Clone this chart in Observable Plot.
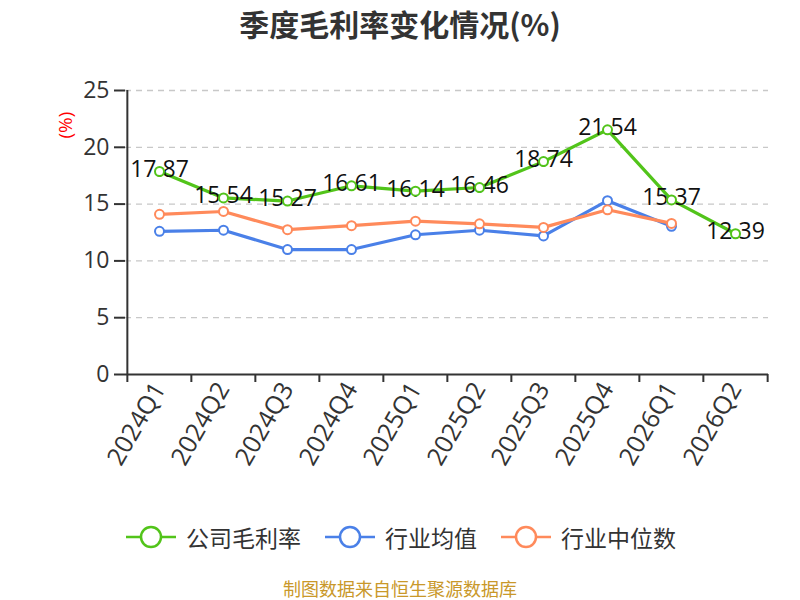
<!DOCTYPE html>
<html><head><meta charset="utf-8">
<script src="https://cdn.jsdelivr.net/npm/d3@7"></script>
<script src="https://cdn.jsdelivr.net/npm/@observablehq/plot@0.6"></script>
<style>
body{margin:0;background:#fff;font-family:"Noto Sans CJK SC","Noto Sans",sans-serif;width:800px;}
#title{height:50px;line-height:46px;text-align:center;font-size:30px;font-weight:bold;color:#333;}
#legend{height:54px;display:flex;justify-content:center;align-items:center;gap:24px;font-size:23px;color:#333;padding-left:2px;}
.item{display:flex;align-items:center;gap:10px;}
#caption{height:48px;line-height:48px;text-align:center;font-size:18px;color:#c9982a;}
</style></head><body>
<div id="title">季度毛利率变化情况(%)</div>
<div id="chart"></div>
<div id="legend"></div>
<div id="caption">制图数据来自恒生聚源数据库</div>
<script>
const quarters = ["2024Q1","2024Q2","2024Q3","2024Q4","2025Q1","2025Q2","2025Q3","2025Q4","2026Q1","2026Q2"];
const companyMargin = [17.87,15.54,15.27,16.61,16.14,16.46,18.74,21.54,15.37,12.39];
const industryMean = [12.6,12.7,11.0,11.0,12.3,12.7,12.2,15.3,13.05,null];
const industryMedian = [14.1,14.35,12.75,13.1,13.5,13.26,12.95,14.5,13.3,null];
const yTicks = [0,5,10,15,20,25];
const seriesNames = ["公司毛利率","行业均值","行业中位数"];
const colors = ["#52c41a","#4a80e8","#ff8a5b"];

const rows = [];
[companyMargin, industryMean, industryMedian].forEach((arr, s) => {
  arr.forEach((v, i) => { if (v != null) rows.push({q: quarters[i], v, s: seriesNames[s]}); });
});
const company = rows.filter(d => d.s === seriesNames[0]);

const W = 800, H = 460, mL = 125, mR = 32, mT = 40, mB = 136;
const bw = (W - mL - mR) / quarters.length;

const chart = Plot.plot({
  width: W, height: H,
  marginLeft: mL, marginRight: mR, marginTop: mT, marginBottom: mB,
  style: {fontFamily: '"Open Sans","Noto Sans CJK SC",sans-serif', overflow: "visible"},
  x: {type: "band", domain: quarters, padding: 0, label: null},
  y: {domain: [0, 25], label: null},
  color: {domain: seriesNames, range: colors},
  marks: [
    Plot.gridY(yTicks.slice(1), {stroke: "#c8c8c8", strokeOpacity: 1, strokeDasharray: "6,5", strokeWidth: 1.3}),
    Plot.axisY(yTicks, {tickSize: 11, tickPadding: 5, fontSize: 23, fill: "#333", stroke: "#333", strokeWidth: 2, label: null}),
    Plot.axisX({tickSize: 0, tickPadding: 10, tickRotate: -60, fontSize: 25, fill: "#333", label: null}),
    Plot.axisX({tickSize: 8, tickFormat: () => "", stroke: "#333", strokeWidth: 2, dx: -bw/2, label: null}),
    Plot.axisX([quarters[quarters.length-1]], {tickSize: 8, tickFormat: () => "", stroke: "#333", strokeWidth: 2, dx: bw/2, label: null}),
    Plot.ruleX([quarters[0]], {stroke: "#333", strokeWidth: 2, dx: -bw/2}),
    Plot.ruleY([0], {stroke: "#333", strokeWidth: 2}),
    Plot.text(["(%)"], {frameAnchor: "top-left", dx: -67, dy: 48, rotate: -90, fill: "red", fontSize: 19, text: d => d}),
    Plot.line(rows, {x: "q", y: "v", stroke: "s", z: "s", strokeWidth: 3.2}),
    Plot.text(company, {x: "q", y: "v", text: d => d.v.toFixed(2), fontSize: 23, fill: "#111", dy: -2}),
    Plot.dot(rows, {x: "q", y: "v", stroke: "s", fill: "white", r: 4.5, strokeWidth: 2})
  ]
});
document.getElementById("chart").appendChild(chart);

const legend = document.getElementById("legend");
seriesNames.forEach((n, i) => {
  const el = document.createElement("div");
  el.className = "item";
  el.innerHTML = `<svg width="50" height="26"><line x1="0" y1="13" x2="50" y2="13" stroke="${colors[i]}" stroke-width="2.5"/><circle cx="25" cy="13" r="10" fill="white" stroke="${colors[i]}" stroke-width="2.5"/></svg><span>${n}</span>`;
  legend.appendChild(el);
});
</script>
</body></html>
